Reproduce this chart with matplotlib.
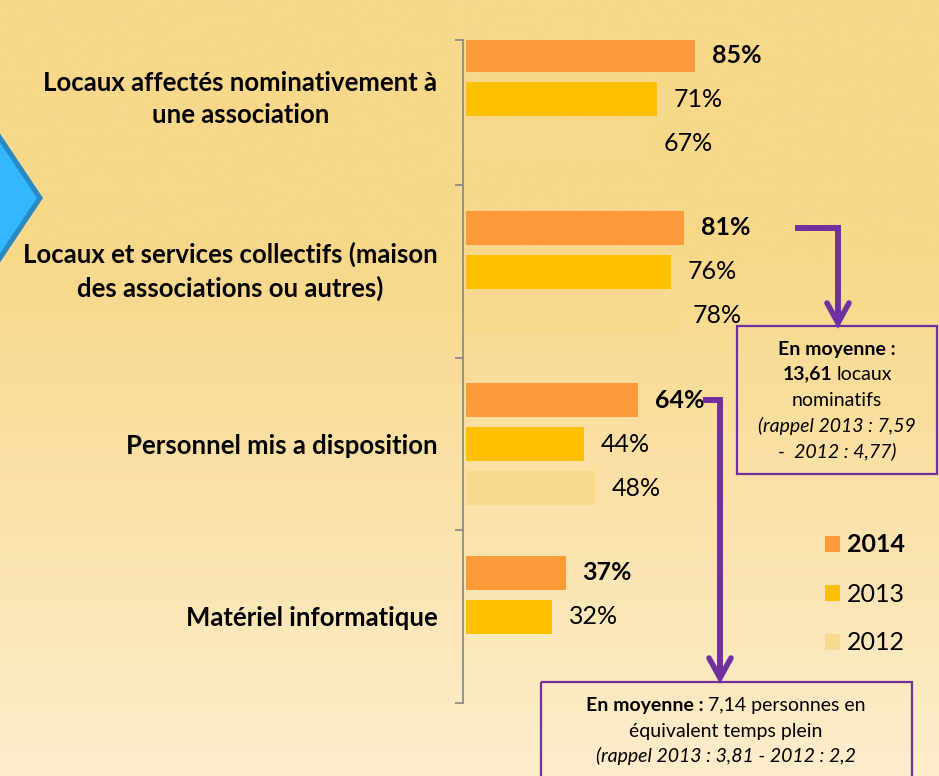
import numpy as np
import matplotlib
matplotlib.use("Agg")
import matplotlib.pyplot as plt
from matplotlib.patches import Rectangle, Polygon
from matplotlib.offsetbox import TextArea, HPacker, AnnotationBbox
from matplotlib.colors import to_rgb

plt.rcParams['font.family'] = ['Lato', 'DejaVu Sans']

# ---------------- data ----------------
categories = ["Locaux affectés nominativement à\nune association",
              "Locaux et services collectifs (maison\ndes associations ou autres)",
              "Personnel mis a disposition",
              "Matériel informatique"]
years = ["2014", "2013", "2012"]
values_2014 = [85, 81, 64, 37]
values_2013 = [71, 76, 44, 32]
values_2012 = [67, 78, 48, None]

colors = {"2014": "#FD9A3A", "2013": "#FFC000", "2012": "#F8D98E"}

W, H = 939, 776
fig = plt.figure(figsize=(W / 100, H / 100), dpi=100)

# ---------------- background gradient ----------------
bg = fig.add_axes([0, 0, 1, 1], zorder=0)
top_c = np.array(to_rgb("#F8D88B"))
bot_c = np.array(to_rgb("#FDEDCC"))
ys = np.linspace(0, H, 400)
t = np.clip((ys - 260) / (H - 260), 0, 1)[:, None]
grad = top_c * (1 - t) + bot_c * t
bg.imshow(grad[:, None, :], extent=(0, W, H, 0), aspect="auto")
bg.set_xlim(0, W)
bg.set_ylim(H, 0)
bg.axis("off")

# ---------------- main axes ----------------
px_per_pct = 2.70
zero_px = 465.6
left_px = 463
ax_top_px = 40
cat0_px = 99
cat_step = 172.5
y_top = (ax_top_px - cat0_px) / cat_step
y_bot = 3.5
bot_px = cat0_px + y_bot * cat_step

ax = fig.add_axes([left_px / W, 1 - bot_px / H, (W - left_px) / W, (bot_px - ax_top_px) / H], zorder=1)
ax.patch.set_alpha(0)
x0 = -(zero_px - left_px) / px_per_pct
ax.set_xlim(x0, x0 + (W - left_px) / px_per_pct)
ax.set_ylim(y_bot, y_top)

pos = np.arange(len(categories))
off = 44 / cat_step
bh = 34 / cat_step

c14 = ax.barh(pos - off, values_2014, height=bh, color=colors["2014"], label="2014")
c13 = ax.barh(pos, values_2013, height=bh, color=colors["2013"], label="2013")
idx12 = [i for i, v in enumerate(values_2012) if v is not None]
v12 = [values_2012[i] for i in idx12]
c12 = ax.barh(pos[idx12] + off, v12, height=bh, color=colors["2012"], label="2012")

ax.bar_label(c14, labels=[f"{v}%" for v in values_2014], padding=12, fontsize=18, fontweight="bold")
ax.bar_label(c13, labels=[f"{v}%" for v in values_2013], padding=12, fontsize=18)
ax.bar_label(c12, labels=[f"{v}%" for v in v12], padding=12, fontsize=18)

for s in ["top", "right", "bottom"]:
    ax.spines[s].set_visible(False)
ax.spines["left"].set_color("#8C8C8C")
ax.spines["left"].set_linewidth(1.3)
ax.set_xticks([])
ax.set_yticks([y_top, 0.5, 1.5, 2.5, 3.5])
ax.set_yticklabels([])
ax.tick_params(axis="y", which="major", length=6, width=1.3, color="#8C8C8C", direction="out")
ax.set_yticks(pos, minor=True)
ax.set_yticklabels(categories, minor=True)
ax.tick_params(axis="y", which="minor", length=0, pad=18.5, labelsize=18.5)
for tl in ax.get_yticklabels(minor=True):
    tl.set_fontweight("bold")
    tl.set_multialignment("center")
    tl.set_linespacing(1.38)
    if "\n" in tl.get_text():
        tl.set_verticalalignment("center")

leg = ax.legend(handles=[c14, c13, c12], labels=years, loc="center left",
                bbox_to_anchor=(825 / W, 1 - 594 / H), bbox_transform=fig.transFigure,
                frameon=False, fontsize=18, handlelength=0.6, handleheight=0.6,
                handletextpad=0.28, labelspacing=1.04, borderpad=0, borderaxespad=0)
leg.get_texts()[0].set_fontweight("bold")

# ---------------- overlay annotations ----------------
ov = fig.add_axes([0, 0, 1, 1], zorder=3)
ov.patch.set_alpha(0)
ov.set_xlim(0, W)
ov.set_ylim(H, 0)
ov.axis("off")

purple = "#7030A0"

# blue chevron at left
ov.add_patch(Polygon([(-10, 123), (40, 198), (-10, 273)], closed=True,
                     facecolor="#33B7FF", edgecolor="#2A8AC6", linewidth=3.6, joinstyle="miter"))

# box 1
ov.add_patch(Rectangle((737, 326), 200, 148, fill=False, edgecolor=purple, linewidth=1.6))
# box 2
ov.add_patch(Rectangle((541, 682), 371, 120, fill=False, edgecolor=purple, linewidth=1.6))

# arrows
ov.plot([795, 838, 838], [228, 228, 322], color=purple, lw=4.3, solid_joinstyle="miter", solid_capstyle="butt")
ov.plot([827, 838, 849], [303, 323, 303], color=purple, lw=4.0, solid_joinstyle="miter", solid_capstyle="round")
ov.plot([703, 720, 720], [400, 400, 677], color=purple, lw=4.3, solid_joinstyle="miter", solid_capstyle="butt")
ov.plot([709, 720, 731], [658, 678, 658], color=purple, lw=4.0, solid_joinstyle="miter", solid_capstyle="round")

fs = 14


def mixed_line(parts, x, y):
    kids = []
    for txt, style in parts:
        props = dict(fontsize=fs, color="black")
        if style == "bold":
            props["fontweight"] = "bold"
        elif style == "italic":
            props["fontstyle"] = "italic"
        kids.append(TextArea(txt, textprops=props))
    box = HPacker(children=kids, align="baseline", pad=0, sep=3)
    ab = AnnotationBbox(box, (x, y), xycoords="data", frameon=False, box_alignment=(0.5, 0.5), pad=0)
    ov.add_artist(ab)


# box 1 text
cx1 = 837
ov.text(cx1, 349, "En moyenne :", ha="center", va="center", fontsize=fs, fontweight="bold")
mixed_line([("13,61", "bold"), ("locaux", "normal")], cx1, 374)
ov.text(cx1, 400, "nominatifs", ha="center", va="center", fontsize=fs)
ov.text(cx1, 426, "(rappel 2013 : 7,59", ha="center", va="center", fontsize=fs, fontstyle="italic")
ov.text(cx1, 451, "-  2012 : 4,77)", ha="center", va="center", fontsize=fs, fontstyle="italic")

# box 2 text
cx2 = 726
mixed_line([("En moyenne :", "bold"), ("7,14 personnes en", "normal")], cx2, 705)
ov.text(cx2, 731, "équivalent temps plein", ha="center", va="center", fontsize=fs)
ov.text(cx2, 756, "(rappel 2013 : 3,81 - 2012 : 2,2", ha="center", va="center", fontsize=fs, fontstyle="italic")

fig.savefig("out.png", dpi=100)
